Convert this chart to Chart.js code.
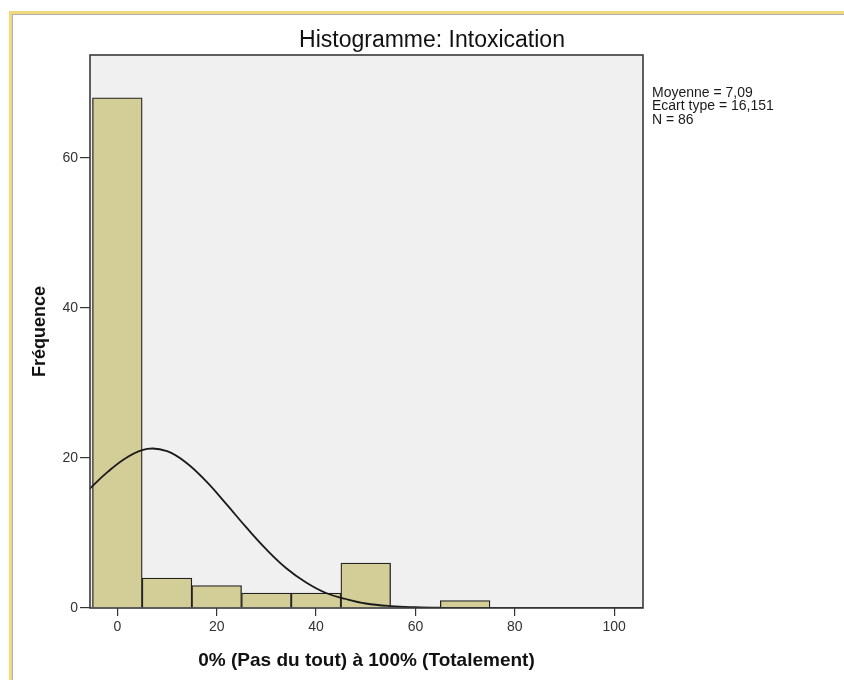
<!DOCTYPE html>
<html lang="fr">
<head>
<meta charset="utf-8">
<title>Histogramme: Intoxication</title>
<script src="https://cdn.jsdelivr.net/npm/chart.js@4.4.1/dist/chart.umd.min.js"></script>
<style>
  html, body { margin: 0; padding: 0; background: #fff; }
  canvas { display: block; }
</style>
</head>
<body>
<canvas id="histo" width="844" height="680"></canvas>
<script>
// --- Données ---
const binCenters = [0, 10, 20, 30, 40, 50, 60, 70];
const frequencies = [68, 4, 3, 2, 2, 6, 0, 1];

// courbe normale superposée
const curveX = [-6, -2, 2, 6, 10, 14, 18, 22, 26, 30, 34, 38, 42, 46, 50, 55, 60, 65, 70, 80, 90, 100, 106];
const curveY = [15.6, 18.1, 20.1, 21.2, 20.9, 19.3, 16.8, 13.8, 10.7, 7.8, 5.3, 3.4, 2.0, 1.2, 0.6, 0.25, 0.1, 0.03, 0.01, 0, 0, 0, 0];

const xTicks = [0, 20, 40, 60, 80, 100];
const yTicks = [0, 20, 40, 60];

const chartTitle = 'Histogramme: Intoxication';
const statsLines = ['Moyenne = 7,09', 'Ecart type = 16,151', 'N = 86'];

const FONT = '"Liberation Sans", Arial, sans-serif';
Chart.defaults.font.family = FONT;

// --- Décor : cadre de la fenêtre, fond gris, titre, encadré, statistiques ---
const decorPlugin = {
    id: 'decor',
    beforeDraw(chart) {
        const { ctx, chartArea: a } = chart;
        ctx.save();
        ctx.fillStyle = '#f1d97e';
        ctx.fillRect(9, 11, chart.width, 3);
        ctx.fillRect(9, 11, 3, chart.height);
        ctx.fillStyle = '#b0b0b0';
        ctx.fillRect(12, 14, chart.width, 1);
        ctx.fillRect(12, 14, 1, chart.height);

        ctx.fillStyle = '#f0f0f0';
        ctx.fillRect(a.left, a.top, a.right - a.left, a.bottom - a.top);

        ctx.fillStyle = '#111';
        ctx.font = '23px ' + FONT;
        ctx.textAlign = 'center';
        ctx.textBaseline = 'middle';
        ctx.fillText(chartTitle, 432, 40.5);
        ctx.restore();
    },
    afterDatasetsDraw(chart) {
        const { ctx, chartArea: a } = chart;
        ctx.save();
        ctx.strokeStyle = '#3a3a3a';
        ctx.lineWidth = 1.6;
        ctx.strokeRect(a.left, a.top, a.right - a.left, a.bottom - a.top);

        ctx.fillStyle = '#1a1a1a';
        ctx.font = '14px ' + FONT;
        ctx.textAlign = 'left';
        ctx.textBaseline = 'alphabetic';
        statsLines.forEach((t, i) => ctx.fillText(t, a.right + 9, 97 + i * 13.3));
        ctx.restore();
    }
};

const tickGrid = (len) => ({
    display: true,
    drawOnChartArea: false,
    drawTicks: true,
    tickLength: len,
    color: '#333',
    lineWidth: 1.2,
    offset: false
});

new Chart(document.getElementById('histo'), {
    type: 'bar',
    data: {
        datasets: [
            {
                type: 'line',
                data: curveX.map((x, i) => ({ x, y: curveY[i] })),
                borderColor: '#1a1a1a',
                borderWidth: 1.8,
                pointRadius: 0,
                fill: false,
                tension: 0.4,
                order: 0
            },
            {
                type: 'bar',
                data: binCenters.map((x, i) => ({ x, y: frequencies[i] })),
                backgroundColor: '#d3ce97',
                borderColor: '#222',
                borderWidth: 1.3,
                barPercentage: 1,
                categoryPercentage: 1,
                order: 1
            }
        ]
    },
    options: {
        responsive: false,
        animation: false,
        layout: { padding: { top: 55, right: 201, bottom: 0, left: 0 } },
        plugins: {
            legend: { display: false },
            title: { display: false },
            tooltip: { enabled: false }
        },
        scales: {
            x: {
                type: 'linear',
                min: -5.5,
                max: 105.8,
                offset: false,
                afterBuildTicks: s => { s.ticks = xTicks.map(v => ({ value: v })); },
                afterFit: s => { s.height = 72; },
                grid: tickGrid(8),
                border: { display: false },
                ticks: { color: '#333', font: { size: 14 }, padding: 3, maxRotation: 0 },
                title: {
                    display: true,
                    text: '0% (Pas du tout) à 100% (Totalement)',
                    color: '#111',
                    font: { size: 19, weight: 'bold' },
                    padding: { top: 0, bottom: 8 }
                }
            },
            y: {
                type: 'linear',
                min: 0,
                max: 73.7,
                afterBuildTicks: s => { s.ticks = yTicks.map(v => ({ value: v })); },
                afterFit: s => { s.width = 90; },
                grid: tickGrid(10),
                border: { display: false },
                ticks: { color: '#333', font: { size: 14 }, padding: 2 },
                title: {
                    display: true,
                    text: 'Fréquence',
                    color: '#111',
                    font: { size: 18, weight: 'bold' },
                    padding: { top: 29, bottom: 0 }
                }
            }
        }
    },
    plugins: [decorPlugin]
});
</script>
</body>
</html>
